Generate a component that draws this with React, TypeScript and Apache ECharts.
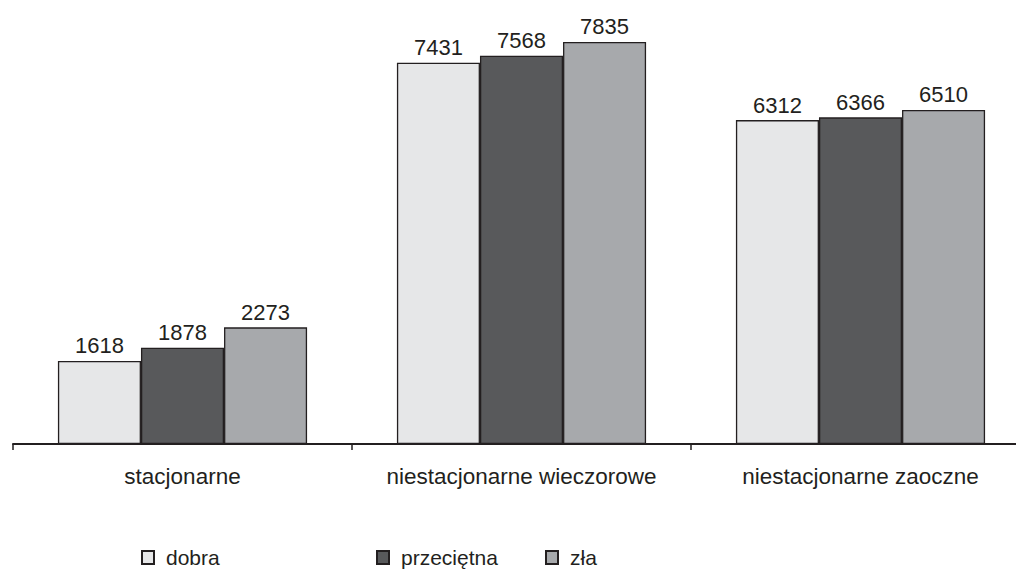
import React, { useEffect, useRef } from "react";
import * as echarts from "echarts";

const categories = ["stacjonarne", "niestacjonarne wieczorowe", "niestacjonarne zaoczne"];
const seriesNames = ["dobra", "przecietna", "zła"];
const legendLabels = ["dobra", "przeciętna", "zła"];
const dobra = [1618, 7431, 6312];
const przecietna = [1878, 7568, 6366];
const zla = [2273, 7835, 6510];
const colors = ["#e6e7e8", "#58595b", "#a7a9ac"];

export default function App() {
  const ref = useRef<HTMLDivElement>(null);
  useEffect(() => {
    if (!ref.current) return;
    const chart = echarts.init(ref.current, null, { renderer: "svg" });
    const values = [dobra, przecietna, zla];
    const legendLeft = [141, 376, 545];
    chart.setOption({
      animation: false,
      textStyle: { fontFamily: "Liberation Sans", color: "#231f20" },
      grid: { left: 13, top: 33.5, bottom: 127, right: 0 },
      legend: seriesNames.map((n, i) => ({
        data: [n],
        left: legendLeft[i],
        top: 547,
        padding: 0,
        itemWidth: 12,
        itemHeight: 13,
        itemGap: 0,
        icon: "rect",
        selectedMode: false,
        formatter: () => legendLabels[i],
        textStyle: { fontSize: 21, color: "#231f20", fontFamily: "Liberation Sans", padding: [0, 0, 0, 7] },
      })),
      xAxis: {
        type: "category",
        data: categories,
        axisLine: { lineStyle: { color: "#231f20", width: 2 } },
        axisTick: { show: true, interval: 0, length: 6, lineStyle: { color: "#231f20", width: 1.5 } },
        axisLabel: { interval: 0, fontSize: 22.5, color: "#231f20", margin: 21, fontFamily: "Liberation Sans" },
      },
      yAxis: {
        type: "value",
        min: 0,
        max: 8000,
        show: false,
        splitLine: { show: false },
      },
      series: seriesNames.map((n, i) => ({
        name: n,
        type: "bar",
        data: values[i],
        barGap: "0%",
        barCategoryGap: "26.5%",
        itemStyle: { color: colors[i], borderColor: "#231f20", borderWidth: 1.3 },
        label: {
          show: true,
          position: "top",
          distance: 4,
          fontSize: 22,
          color: "#231f20",
          fontFamily: "Liberation Sans",
        },
      })),
    });
    return () => chart.dispose();
  }, []);
  return (
    <div style={{ position: "absolute", left: 0, top: 0, width: 1016, height: 571, overflow: "hidden", background: "#fff" }}>
      <div ref={ref} style={{ width: 1030, height: 571 }} />
    </div>
  );
}
